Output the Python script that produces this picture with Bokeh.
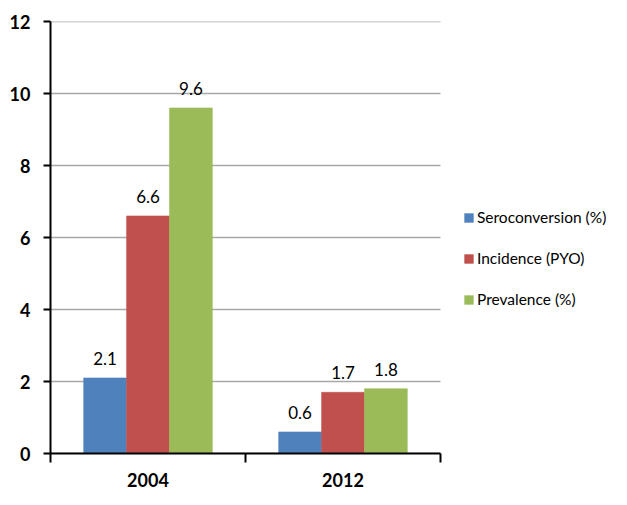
from bokeh.plotting import figure
from bokeh.models import (Range1d, FixedTicker, CustomJSTickFormatter, Legend,
                          LegendItem, ColumnDataSource)
from bokeh.core.properties import value
from bokeh.embed import file_html
from bokeh.resources import INLINE

# ---- data ----
years = ["2004", "2012"]
series_names = ["Seroconversion (%)", "Incidence (PYO)", "Prevalence (%)"]
seroconversion = [2.1, 0.6]
incidence = [6.6, 1.7]
prevalence = [9.6, 1.8]
y_ticks = [0, 2, 4, 6, 8, 10, 12]

colors = ["#4F81BD", "#C0504D", "#9BBB59"]
FONT = "Lato"

W, H = 611, 489
LEFT, TOP, BOTTOM = 50, 21, 34
CAT_PX = 195  # pixel width of one category
n = len(years)
x_end = (W - LEFT) / CAT_PX  # frame extends to the right edge so the legend fits inside

p = figure(width=W, height=H, output_backend="svg", toolbar_location=None,
           x_range=Range1d(0, x_end), y_range=Range1d(0, 12),
           min_border_left=LEFT, min_border_right=0, min_border_top=TOP,
           min_border_bottom=BOTTOM)
p.outline_line_color = None
p.background_fill_color = "white"
p.border_fill_color = "white"

# axes
xa = p.xaxis[0]
xa.bounds = (0, n)
xa.ticker = FixedTicker(ticks=[i + 0.5 for i in range(n)],
                        minor_ticks=list(range(n + 1)))
xa.formatter = CustomJSTickFormatter(args=dict(labels=years),
                                     code="return labels[Math.floor(tick)];")
xa.major_tick_out = 0
xa.major_tick_in = 0
xa.minor_tick_out = 9
xa.minor_tick_in = 0
xa.minor_tick_line_color = "black"
xa.minor_tick_line_width = 2
xa.axis_line_color = "black"
xa.axis_line_width = 2
xa.major_label_standoff = 10
xa.major_label_text_font = FONT
xa.major_label_text_font_style = "bold"
xa.major_label_text_font_size = "18px"
xa.major_label_text_color = "black"

ya = p.yaxis[0]
ya.ticker = FixedTicker(ticks=y_ticks)
ya.major_tick_out = 7
ya.major_tick_in = 0
ya.major_tick_line_width = 2
ya.major_tick_line_color = "black"
ya.minor_tick_line_color = None
ya.axis_line_color = "black"
ya.axis_line_width = 2
ya.major_label_standoff = 13
ya.major_label_text_font = FONT
ya.major_label_text_font_style = "bold"
ya.major_label_text_font_size = "18px"
ya.major_label_text_color = "black"

# gridlines limited to the category area
p.xgrid.grid_line_color = None
p.ygrid.grid_line_color = None
p.segment(x0=[0] * len(y_ticks), x1=[n] * len(y_ticks), y0=y_ticks, y1=y_ticks,
          line_color="#A8A8A8", line_width=1.5, level="underlay")

# bars
offsets = [-0.22, 0.0, 0.22]
all_series = [seroconversion, incidence, prevalence]
renderers = []
for name, vals, off, col in zip(series_names, all_series, offsets, colors):
    xs = [i + 0.5 + off for i in range(n)]
    src = ColumnDataSource(dict(x=xs, top=vals,
                                label=["{:.1f}".format(v) for v in vals]))
    r = p.vbar(x="x", top="top", bottom=0, width=0.22, source=src,
               fill_color=col, line_color=col, line_width=0.5)
    renderers.append((name, r))
    p.text(x="x", y="top", text="label", source=src,
           text_font=value(FONT), text_font_size="17px",
           text_align="center", text_baseline="bottom", y_offset=-13,
           text_color="black")

legend = Legend(items=[LegendItem(label=nm, renderers=[r]) for nm, r in renderers],
                location=(413, 144), orientation="vertical",
                glyph_width=11, glyph_height=11, label_height=20, spacing=21,
                label_standoff=3, padding=0, margin=0,
                label_text_font=FONT, label_text_font_size="15.5px",
                label_text_color="black",
                border_line_color=None, background_fill_alpha=0)
p.add_layout(legend, "center")

open("out.html", "w").write(file_html(p, INLINE))
